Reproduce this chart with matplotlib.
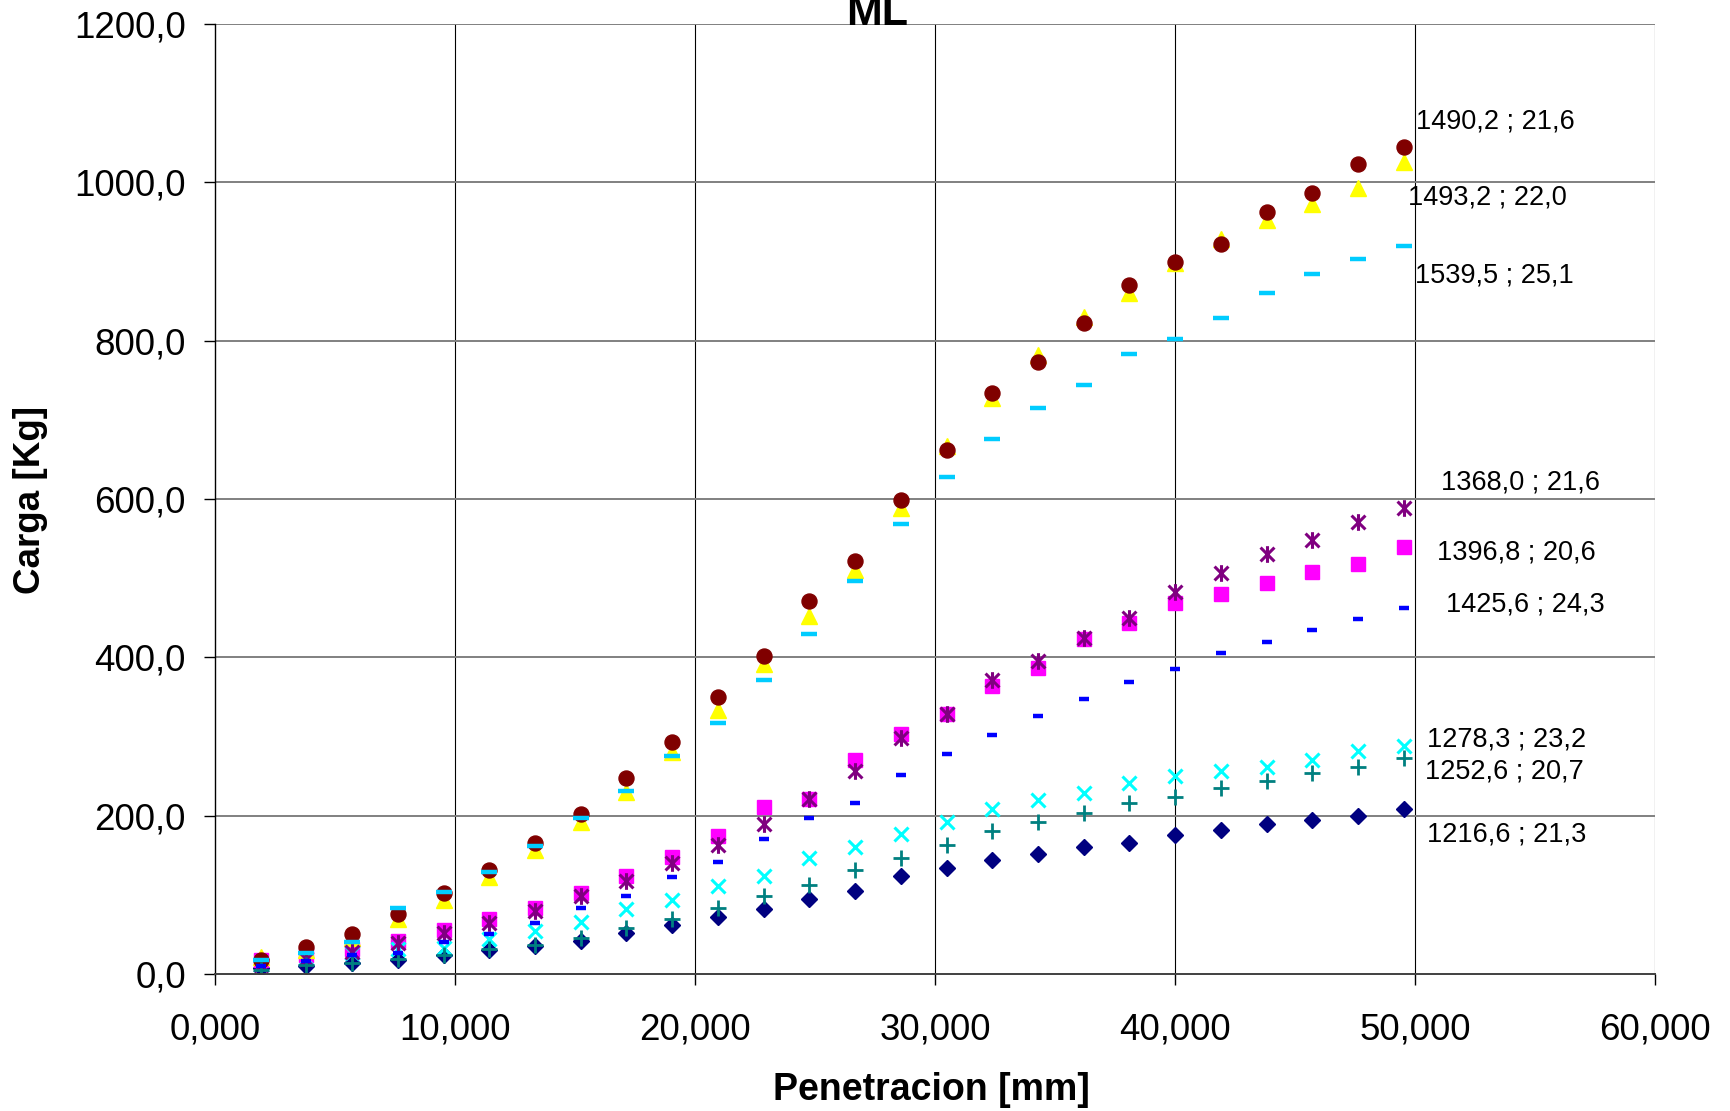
import matplotlib
matplotlib.use("Agg")
import matplotlib.pyplot as plt
from matplotlib.path import Path
from matplotlib.ticker import FuncFormatter, MultipleLocator

plt.rcParams['font.family'] = ['Liberation Sans', 'DejaVu Sans']

# penetracion [mm]
pen = [1.905, 3.810, 5.715, 7.620, 9.525, 11.430, 13.335, 15.240, 17.145,
       19.050, 20.955, 22.860, 24.765, 26.670, 28.575, 30.480, 32.385,
       34.290, 36.195, 38.100, 40.005, 41.910, 43.815, 45.720, 47.625, 49.530]

# carga [Kg] por probeta (orden de series de Excel)
c_1216 = [7, 10, 14, 18, 24, 30, 35, 42, 52, 62, 72, 82, 95, 105, 124, 134,
          144, 152, 160, 165, 175, 182, 189, 195, 200, 209]
c_1396 = [18, 24, 32, 42, 56, 70, 83, 102, 124, 148, 174, 211, 221, 270, 303,
          328, 364, 386, 423, 443, 469, 480, 494, 508, 518, 540]
c_1493 = [22, 30, 45, 70, 93, 123, 157, 192, 230, 281, 334, 392, 452, 510, 588,
          667, 727, 782, 830, 860, 898, 928, 953, 973, 993, 1026]
c_1278 = [12, 20, 26, 31, 33, 44, 54, 66, 82, 94, 111, 124, 146, 160, 177, 192,
          209, 220, 229, 241, 250, 257, 262, 270, 282, 288]
c_1368 = [12, 19, 28, 39, 52, 65, 80, 98, 117, 140, 163, 190, 221, 257, 298,
          328, 372, 396, 425, 450, 483, 506, 530, 548, 571, 588]
c_1490 = [18, 34, 51, 76, 102, 131, 165, 202, 247, 293, 350, 402, 471, 522, 599,
          662, 734, 773, 822, 870, 899, 922, 963, 987, 1023, 1045]
c_1252 = [5, 11, 14, 19, 24, 31, 37, 45, 58, 70, 84, 98, 112, 132, 147, 163,
          181, 192, 204, 216, 223, 235, 244, 254, 262, 273]
c_1425 = [10, 16, 24, 27, 41, 51, 65, 84, 99, 122, 142, 170, 197, 216, 251, 278,
          302, 326, 348, 369, 385, 405, 420, 434, 449, 462]
c_1539 = [18, 26, 41, 84, 104, 129, 162, 197, 231, 275, 317, 371, 430, 497, 569,
          628, 676, 715, 744, 783, 802, 828, 860, 884, 903, 919]

etiquetas = ['1490,2 ; 21,6', '1493,2 ; 22,0', '1539,5 ; 25,1', '1368,0 ; 21,6',
             '1396,8 ; 20,6', '1425,6 ; 24,3', '1278,3 ; 23,2', '1252,6 ; 20,7',
             '1216,6 ; 21,3']
etiq_x = [50.05, 49.7, 50.0, 51.1, 50.9, 51.3, 50.5, 50.4, 50.5]
etiq_y = [1077, 981, 882, 621, 532, 467, 296, 256, 176]

# asterisco de Excel: X con linea vertical
ast = Path([(-1, -1), (1, 1), (-1, 1), (1, -1), (0, -1.2), (0, 1.2)],
           [Path.MOVETO, Path.LINETO, Path.MOVETO, Path.LINETO, Path.MOVETO, Path.LINETO])

fig = plt.figure(figsize=(17.3, 11.11), dpi=100)
ax = fig.add_axes([215 / 1730, 1 - 974 / 1111, 1440 / 1730, 950 / 1111])

ax.plot(pen, c_1216, ls='none', marker='D', ms=8, color='#000080', mec='#000080')
ax.plot(pen, c_1396, ls='none', marker='s', ms=10.5, color='#FF00FF', mec='#FF00FF')
ax.plot(pen, c_1493, ls='none', marker='^', ms=11, color='#FFFF00', mec='#FFFF00')
ax.plot(pen, c_1278, ls='none', marker='x', ms=10.5, mew=2.2, color='#00FFFF')
ax.plot(pen, c_1368, ls='none', marker=ast, ms=12, mew=2.2, color='#800080')
ax.plot(pen, c_1490, ls='none', marker='o', ms=10.8, color='#800000', mec='#800000')
ax.plot(pen, c_1252, ls='none', marker='+', ms=11, mew=2.0, color='#008080')
ax.plot(pen, c_1425, ls='none', marker='_', ms=7, mew=3.2, color='#0000FF')
ax.plot(pen, c_1539, ls='none', marker='_', ms=11.5, mew=3.2, color='#00CCFF')

for s, x, y in zip(etiquetas, etiq_x, etiq_y):
    ax.text(x, y, s, fontsize=19.5, ha='left', va='center', clip_on=False)

ax.set_xlim(0, 60)
ax.set_ylim(0, 1200)
ax.xaxis.set_major_locator(MultipleLocator(10))
ax.yaxis.set_major_locator(MultipleLocator(200))
ax.xaxis.set_major_formatter(FuncFormatter(lambda v, p: ('%.3f' % v).replace('.', ',')))
ax.yaxis.set_major_formatter(FuncFormatter(lambda v, p: ('%.1f' % v).replace('.', ',')))
ax.tick_params(axis='both', direction='out', length=8, width=1, labelsize=26.5, color='black')
ax.tick_params(axis='x', pad=20)
ax.tick_params(axis='y', pad=13)

ax.grid(False)
for v in range(10, 61, 10):
    ax.axvline(v, color='black', lw=0.8, zorder=0)
for v in range(200, 1201, 200):
    ax.axhline(v, color='#808080', lw=1.4, zorder=0)

ax.spines['top'].set_visible(False)
ax.spines['right'].set_visible(False)
ax.spines['left'].set_linewidth(1.0)
ax.spines['bottom'].set_color('#404040')
ax.spines['bottom'].set_linewidth(1.4)

fig.text(931.7 / 1730, 1 - 1090 / 1111, 'Penetracion [mm]', fontsize=27,
         weight='bold', ha='center', va='center')
fig.text(31 / 1730, 1 - 500 / 1111, 'Carga [Kg]', fontsize=26.5, weight='bold',
         ha='center', va='center', rotation=90)
fig.text(877 / 1730, 1 - 25 / 1111, 'ML', fontsize=31, weight='bold',
         ha='center', va='baseline')

fig.savefig('out.png', dpi=100)
